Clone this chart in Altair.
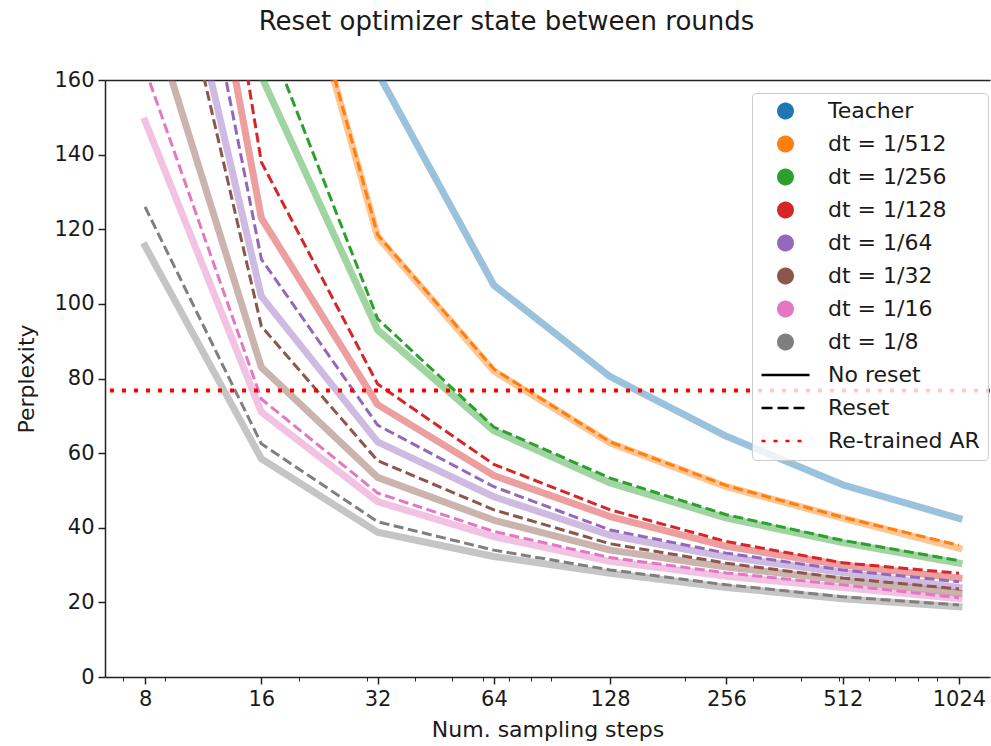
import altair as alt
import pandas as pd

# ---------------- data ----------------
steps = [8, 16, 32, 64, 128, 256, 512, 1024]
series = ["Teacher", "dt = 1/512", "dt = 1/256", "dt = 1/128",
          "dt = 1/64", "dt = 1/32", "dt = 1/16", "dt = 1/8"]
colors = ["#1f77b4", "#ff7f0e", "#2ca02c", "#d62728",
          "#9467bd", "#8c564b", "#e377c2", "#7f7f7f"]

teacher = [700, 330, 162, 105, 80.5, 64.5, 51.5, 42.5]
no_reset_512 = [450, 230, 118, 82, 62.7, 51, 42.6, 34.5]
reset_512 = [455, 232, 118.5, 82.5, 63, 51.3, 42.8, 35.3]
no_reset_256 = [380, 161, 93, 66, 52, 42.6, 36, 30.5]
reset_256 = [420, 176, 96, 67, 53.3, 43.5, 36.6, 31.2]
no_reset_128 = [290, 123, 73, 54, 43, 35, 30, 26.5]
reset_128 = [330, 138, 78.5, 57, 44.8, 36.3, 30.6, 27.8]
no_reset_64 = [236, 102, 63, 48.3, 38, 32.2, 28, 24]
reset_64 = [270, 112, 67.5, 51, 39.4, 33.2, 28.7, 25.5]
no_reset_32 = [183, 83, 53.5, 42, 34, 29.5, 26, 22.5]
reset_32 = [229, 94, 58, 44.8, 35.7, 30.5, 26.5, 23.6]
no_reset_16 = [149, 71, 47, 37.6, 31, 27, 24, 21]
reset_16 = [163, 74.5, 49.3, 39, 32, 27.9, 24.7, 21.2]
no_reset_8 = [115.5, 58.5, 38.8, 32.3, 27.8, 24, 21, 18.8]
reset_8 = [126, 62.5, 41.6, 34, 28.7, 24.7, 21.5, 19.3]
retrained_ar = [76.8]

minor_ticks = [7, 9, 20, 30, 40, 50, 60, 70, 80, 90,
               200, 300, 400, 500, 600, 700, 800, 900]

legend_entries = series + ["No reset", "Reset", "Re-trained AR"]
legend_colors = colors + ["black", "black", "red"]
CIRCLE = "M0.3,0A0.3,0.3,0,1,1,-0.3,0A0.3,0.3,0,1,1,0.3,0Z"
LINE = "M-1,0L1,0"
legend_shapes = [CIRCLE] * 8 + [LINE, LINE, LINE]
legend_dashes = [[1, 0]] * 8 + [[1, 0], [11, 5], [4, 8]]

# ---------------- tables ----------------
no_reset = [teacher, no_reset_512, no_reset_256, no_reset_128,
            no_reset_64, no_reset_32, no_reset_16, no_reset_8]
reset = [None, reset_512, reset_256, reset_128,
         reset_64, reset_32, reset_16, reset_8]

solid_rows, dash_rows = [], []
for name, vals in zip(series, no_reset):
    for s, v in zip(steps, vals):
        solid_rows.append({"steps": s, "perplexity": v, "series": name})
for name, vals in zip(series, reset):
    if vals is None:
        continue
    for s, v in zip(steps, vals):
        dash_rows.append({"steps": s, "perplexity": v, "series": name})
df_solid = pd.DataFrame(solid_rows)
df_dash = pd.DataFrame(dash_rows)
df_ar = pd.DataFrame({"perplexity": retrained_ar})
df_legend = pd.DataFrame({"entry": legend_entries, "steps": [8] * len(legend_entries)})

# ---------------- scales / axes ----------------
FONT = "DejaVu Sans"
xscale = alt.Scale(type="log", base=2, domain=[6.3, 1232], nice=False)
yscale = alt.Scale(domain=[0, 160], nice=False, zero=False)
color_scale = alt.Scale(domain=series, range=colors)

yaxis = alt.Axis(values=list(range(0, 161, 20)), title="Perplexity",
                 titlePadding=15, grid=False)
xaxis_major = alt.Axis(values=steps, format="d", title="Num. sampling steps",
                       orient="bottom", grid=False, labelFlush=False,
                       titlePadding=10)
xaxis_minor = alt.Axis(values=minor_ticks, labels=False, tickSize=4,
                       tickWidth=1, domain=False, title=None,
                       orient="bottom", grid=False)
xaxis_top = alt.Axis(orient="top", ticks=False, labels=False, title=None,
                     domain=True, grid=False)

solid = alt.Chart(df_solid).mark_line(
    strokeWidth=7, opacity=0.45, clip=True, strokeJoin="round", strokeCap="square"
).encode(
    x=alt.X("steps:Q", scale=xscale, axis=xaxis_major),
    y=alt.Y("perplexity:Q", scale=yscale, axis=yaxis),
    color=alt.Color("series:N", scale=color_scale, legend=None),
)

dashed = alt.Chart(df_dash).mark_line(
    strokeWidth=3, strokeDash=[10, 4.5], clip=True, strokeCap="butt"
).encode(
    x=alt.X("steps:Q", scale=xscale, axis=xaxis_top),
    y=alt.Y("perplexity:Q", scale=yscale, axis=yaxis),
    color=alt.Color("series:N", scale=color_scale, legend=None),
)

ar_rule = alt.Chart(df_ar).mark_rule(
    color="red", strokeWidth=4, strokeDash=[4, 8]
).encode(
    y=alt.Y("perplexity:Q", scale=yscale, axis=yaxis),
)

legend_layer = alt.Chart(df_legend).transform_filter("false").mark_point(
    filled=True, opacity=1, size=2304
).encode(
    x=alt.X("steps:Q", scale=xscale, axis=xaxis_minor),
    fill=alt.Fill(
        "entry:N",
        scale=alt.Scale(domain=legend_entries, range=legend_colors),
        legend=alt.Legend(
            orient="none", legendX=647, legendY=13, title=None,
            labelFont=FONT, labelFontSize=22, labelColor="#1a1a1a",
            symbolSize=2304, symbolStrokeWidth=2.5, symbolOpacity=1,
            clipHeight=20, rowPadding=11, padding=8, labelOffset=17,
            strokeColor="#cccccc", fillColor="rgba(255,255,255,0.8)",
            cornerRadius=4, labelLimit=300,
        ),
    ),
    stroke=alt.Stroke("entry:N", scale=alt.Scale(domain=legend_entries, range=legend_colors)),
    shape=alt.Shape("entry:N", scale=alt.Scale(domain=legend_entries, range=legend_shapes)),
    strokeDash=alt.StrokeDash("entry:N", scale=alt.Scale(domain=legend_entries, range=legend_dashes)),
)

chart = alt.layer(solid, dashed, ar_rule, legend_layer).resolve_axis(
    x="independent"
).properties(
    width=885, height=597,
    background="white",
    title=alt.TitleParams(
        "Reset optimizer state between rounds", font=FONT, fontSize=26,
        fontWeight="normal", color="#1a1a1a", anchor="middle", dx=-41, offset=34,
    ),
    autosize=alt.AutoSizeParams(type="none"),
    padding={"left": 105, "top": 80, "right": 1, "bottom": 69},
).configure_view(
    strokeWidth=0
).configure_axis(
    labelFont=FONT, labelFontSize=21, labelColor="#1a1a1a",
    titleFont=FONT, titleFontSize=22, titleFontWeight="normal", titleColor="#1a1a1a",
    domainColor="#222222", domainWidth=1.5, tickColor="#222222", tickWidth=1.5,
    tickSize=7, labelPadding=4,
)

chart.save("out.html", embed_options={"renderer": "svg", "actions": False})
